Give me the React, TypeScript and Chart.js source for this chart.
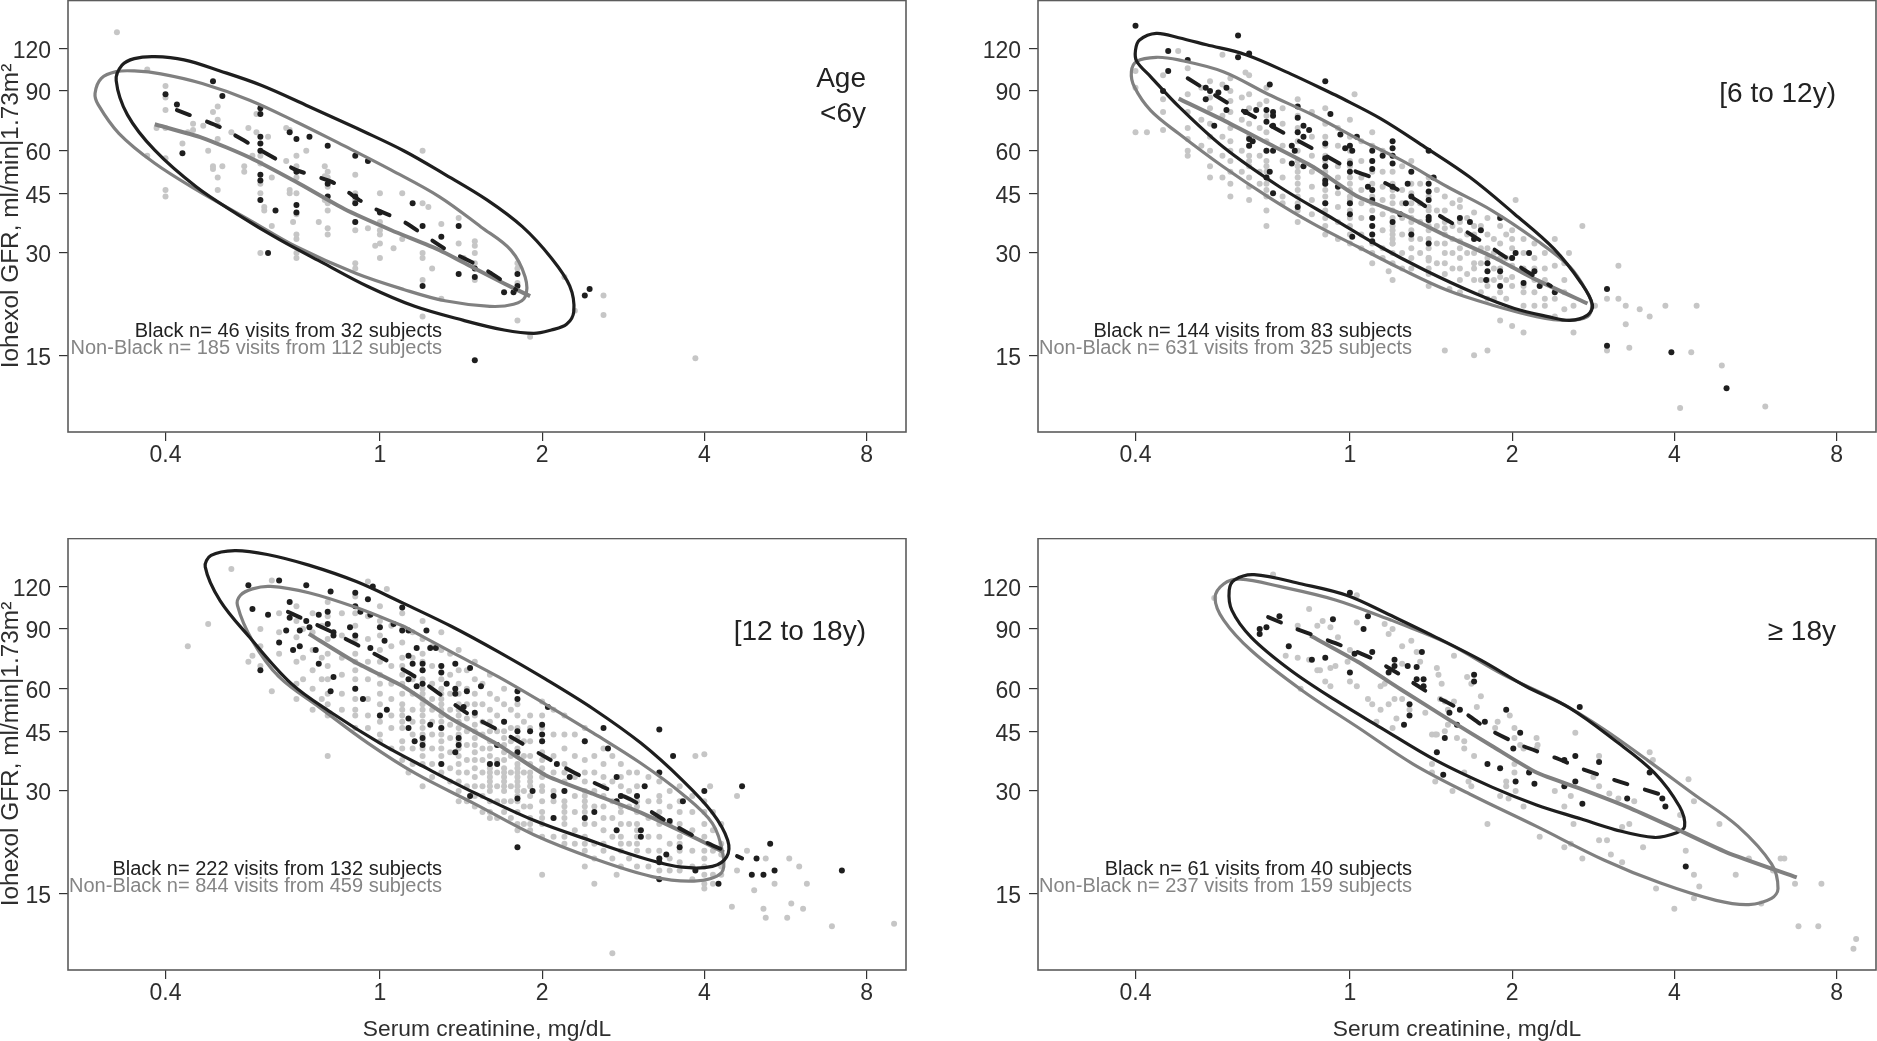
import React, { useEffect, useRef } from "react";
import { Chart, registerables } from "chart.js";

Chart.register(...registerables);

type P = number[];
type Col = [number, number[]];

const xTickValues = [0.4, 1, 2, 4, 8];
const yTickValues = [15, 30, 45, 60, 90, 120];
const yTitle = "Iohexol GFR, ml/min|1.73m²";
const xTitle = "Serum creatinine, mg/dL";

// ---------- Age < 6y
const black1: P[] = [[.4,88],[.42,82],[.49,96],[.51,87],[.6,80],[.6,77],[.43,59],[.6,66],[.6,60],[.6,51],[.6,49],[.6,43],[.64,40],[.62,30],[.68,68],[.7,65],[.74,66],[.8,62],[.9,58],[.95,56],[.7,41.5],[.7,39.5],[.9,42],[.9,37],[1,39.5],[1.15,42],[1.2,36],[1.3,33.5],[1.4,36],[1.4,26],[1.5,25.5],[1.2,24],[1.8,26],[1.8,24],[1.7,23],[1.77,23],[2.4,22.5],[2.45,23.5],[1.5,14.5],[.8,48],[.8,44],[.7,52],[.9,44],[1.6,26],[1.5,27],[.6,63]];
const grey1: P[] = [[.325,134],[.37,104],[.4,93],[.4,86],[.4,79],[.4,70],[.385,70],[.37,58],[.4,57],[.4,46],[.4,44],[.43,63],[.44,68],[.45,72],[.45,69],[.47,71],[.48,60],[.49,54],[.49,53],[.5,81],[.49,78],[.5,74],[.5,71],[.5,65],[.51,54],[.5,50],[.5,46],[.53,68],[.56,54],[.56,52],[.59,77],[.57,70],[.59,68],[.58,58],[.6,58],[.6,55],[.6,48],[.6,45],[.61,41],[.61,40],[.63,50],[.63,36],[.62,66],[.6,30],[.67,70],[.68,69],[.67,56],[.68,46],[.68,45],[.69,37],[.7,58],[.7,54],[.7,50],[.7,45],[.7,39],[.7,34],[.7,33],[.7,30],[.7,29],[.73,60],[.77,37],[.79,54],[.79,50.5],[.79,43],[.8,52],[.8,50],[.8,47],[.8,42],[.8,40],[.8,35.5],[.8,34],[.9,51],[.9,45],[.9,43],[.9,37],[.9,35],[.9,28],[.9,27],[.95,35.5],[.98,31.5],[1,45],[1,37],[1,35],[1,34],[1,32],[1,29],[1.06,31],[1.1,45],[1.1,33],[1.2,60],[1.2,42],[1.23,41],[1.2,30],[1.2,29],[1.2,25],[1.2,19.5],[1.25,27],[1.3,36.5],[1.3,22],[1.4,38],[1.4,32],[1.43,29],[1.5,32.5],[1.5,31.5],[1.5,30],[1.5,28],[1.5,25],[1.8,28],[1.8,27],[1.8,24.5],[1.8,19],[1.9,17],[2.2,25.5],[2.3,20.3],[2.6,22.5],[2.6,19.7],[3.85,14.7]];
const blackEllipse1: P[] = [[.904,70],[1.107,60],[1.315,51.3],[1.58,43],[1.84,35.8],[2.08,29],[2.25,24],[2.29,20.2],[2.22,18.5],[2.08,17.8],[1.93,17.4],[1.7,17.8],[1.43,19],[1.16,20.9],[.95,23.9],[.776,28.3],[.65,32.9],[.544,39],[.456,47],[.382,60.2],[.34,76.5],[.324,96.5],[.332,107],[.35,112],[.382,113.5],[.433,111],[.505,103],[.602,93.5],[.738,81],[.904,70]];
const greyEllipse1: P[] = [[.859,62],[1.05,52.6],[1.29,43.9],[1.54,35.8],[1.75,30.6],[1.86,25.5],[1.86,22.3],[1.77,21.2],[1.6,20.9],[1.32,21.7],[1.11,23.4],[.904,26.1],[.7,31.3],[.573,37.5],[.456,46.1],[.382,55.1],[.328,67.4],[.3,82],[.296,88.5],[.304,98],[.324,102.5],[.35,103],[.392,101],[.468,94.6],[.573,84.5],[.7,72.9],[.859,62]];
const greyLine1: P[] = [[.382,71.8],[.468,65.5],[.573,57.3],[.7,48.5],[.859,40.4],[1.05,35],[1.29,30.6],[1.5,27],[1.7,24.4],[1.9,22.4]];
const blackLine1: P[] = [[.42,79],[.505,70.4],[.62,58.5],[.7,52.6],[.816,48.5],[.95,41.4],[1.107,37.1],[1.315,31],[1.54,27.3],[1.79,23.4]];

// ---------- 6 to 12y
const black2: P[] = [[.4,140],[.46,118],[.46,103],[.5,111],[.62,131],[.62,113],[.65,116],[.71,94],[.9,96],[.45,90],[.54,92],[.55,90],[.57,89],[.59,92],[.54,85],[.59,79],[.56,71],[.65,65],[.65,62],[.66,64],[.64,78],[.67,79],[.7,79],[.72,78],[.72,76],[.7,73],[.72,71],[.7,60],[.72,60],[.8,81],[.8,75],[.8,68],[.82,71],[.84,69],[.82,66],[.78,62],[.79,60],[.78,55],[.82,54],[.7,50],[.71,52],[.72,45],[.8,41],[.9,63],[.9,57],[.9,54],[.9,49],[.9,48],[.95,47],[.9,42],[.96,67],[.92,77],[.98,61],[1,62],[1.01,60],[1,55],[1,52],[1,42],[1,39],[1.01,33.5],[1.03,66],[1.1,60],[1.1,56],[1.1,53],[1.15,58],[1.2,64],[1.2,61],[1.2,58],[1.2,55],[1.08,47],[1.1,46],[1.1,43],[1.1,38],[1.1,36],[1.1,34],[1.1,32.5],[1.2,47],[1.2,37],[1.24,39],[1.27,42],[1.3,52],[1.28,48],[1.3,44],[1.3,34],[1.4,60],[1.43,50],[1.4,48],[1.4,45.5],[1.4,43],[1.4,38.3],[1.4,37.5],[1.4,32],[1.6,38],[1.67,37],[1.75,35],[1.7,33],[1.9,38],[1.8,28],[1.8,26.5],[1.79,25],[1.9,26.5],[1.9,24],[2,29],[2.03,30],[2.15,30],[2.2,26.5],[2.1,24.5],[2.25,24],[2.4,23],[3,23.5],[3,16],[3.95,15.3],[5,12]];
const grey2: P[] = [[.4,68],[.42,68],[.45,69],[.48,118],[.58,115],[.64,102],[1.02,88],[2.7,36],[3.15,27.5],[3.15,22],[3.25,21],[3.45,20.5],[3.6,19.5],[3.85,21],[4.4,21],[3.25,18.5],[3,22],[2.6,17.5],[3,15.5],[3.3,15.8],[4.3,15.3],[4.9,14],[4.1,10.5],[5.9,10.6],[1.5,15.5],[1.7,15],[1.8,15.5],[1.9,19],[2,18.3],[2.1,17.5],[1.18,26.5],[1.2,25],[1.5,28],[1.4,24],[1.53,23.5],[1.6,23],[1.8,22],[2.03,43],[1.7,39.5],[1.6,43],[1.6,41],[2.4,33],[2.55,30],[2.4,27.5],[2.3,21],[2.4,22],[2.4,19.5],[2.6,21],[2.85,21],[2.1,23],[2,27.5],[2,25.5],[2,31],[1.9,25.5],[1.6,25],[1.7,25],[1.7,30],[1.6,31],[1.6,32.5],[1.5,35.5],[1.5,32],[1.4,29],[1.4,28.5],[1.3,29],[1.2,32],[1.2,33],[1.2,35],[1.3,38],[1.4,40]];
const grey2Columns: Col[] = [[.4,[103,92]],[.45,[100,85,78]],[.5,[105,88,78,70,65,60,58]],[.53,[92,74,62]],[.55,[96,86,80,72,66,60,54,50]],[.58,[94,76,66,58,50]],[.6,[98,90,84,78,70,64,60,56,52,48,44]],[.63,[86,74,60,52]],[.65,[100,88,80,72,66,62,58,56,54,50,47,43]],[.68,[82,70,58,52,48]],[.7,[92,84,76,68,64,60,56,54,52,50,48,46,44,40,36]],[.75,[80,72,62,56,50,44,42]],[.8,[85,76,70,64,60,56,54,52,50,48,46,44,42,40,37]],[.85,[78,66,58,52,47,43,39]],[.9,[80,72,66,62,58,56,52,50,48,46,44,42,40,38,36,34]],[.95,[70,62,54,50,45,41,37,33]],[1,[74,66,60,56,54,50,48,46,44,43,42,40,38,36,34,32]],[1.05,[64,56,50,46,42,38,34,31]],[1.1,[68,62,56,52,48,46,44,42,40,38,36,34,32,30,28]],[1.15,[60,52,47,43,39,35,31,29]],[1.2,[58,52,48,46,44,42,40,38,36,34,32,30,28]],[1.25,[54,46,42,38,34,30,27]],[1.3,[56,48,45,42,40,37,35,33,31,27]],[1.35,[48,42,37,33,30]],[1.4,[50,44,41,38,36,35,33,31,29,27,26]],[1.45,[46,40,36,32,28]],[1.5,[44,40,37,34,30,26]],[1.55,[42,36,33,30,27]],[1.6,[37,35,29,27]],[1.65,[38,34,30,26]],[1.7,[36,34,28,27]],[1.75,[36,31,28,25,23]],[1.8,[38,34,31,29,25,24]],[1.85,[33,30,27,25,22]],[1.9,[36,32,29,27,23]],[1.95,[34,29,25,22]],[2,[35,33,29,24]],[2.1,[33,30,27,24,21]],[2.2,[32,29,27,25,23,21]],[2.3,[30,27,25,22]],[2.5,[28,25,23,20.5]]];
const blackEllipse2: P[] = [[.94,87.5],[1.138,74.7],[1.378,61.5],[1.668,50.2],[2.02,39.1],[2.39,30.9],[2.69,24.4],[2.82,21.1],[2.76,19.7],[2.56,19],[2.33,19.5],[2.02,20.6],[1.71,22.8],[1.378,26.7],[1.138,31.3],[.94,37.5],[.74,47],[.582,61.5],[.481,81],[.427,99],[.402,110],[.4,118.6],[.407,127],[.437,132.8],[.481,129],[.542,123],[.641,115],[.776,101],[.94,87.5]];
const greyEllipse2: P[] = [[1.034,65],[1.252,56],[1.516,47],[1.835,40],[2.22,32.7],[2.56,27.3],[2.76,22.9],[2.81,21.1],[2.76,19.5],[2.53,19],[2.22,19.5],[1.835,21.1],[1.516,23.3],[1.252,26.8],[1.034,31.3],[.854,36.6],[.705,43.9],[.582,53.8],[.481,67.4],[.427,78.7],[.398,92.5],[.393,102.5],[.402,110],[.437,113],[.481,111],[.582,102.5],[.705,88],[.854,76.4],[1.034,65]];
const greyLine2: P[] = [[.481,85.4],[.582,73.8],[.705,63],[.854,53.8],[1.034,44],[1.252,39],[1.516,33.6],[1.835,29.3],[2.22,25],[2.76,21.3]];
const blackLine2: P[] = [[.5,98],[.6,82],[.65,77],[.776,66],[.885,59],[1,53],[1.138,49],[1.31,43.5],[1.46,38.8],[1.63,35],[1.86,30.6],[2.09,27],[2.36,24]];

// ---------- 12 to 18y
const black3: P[] = [[.57,121],[.58,103],[.62,99],[.65,125],[.73,121],[.81,116],[.9,115],[.95,110],[.97,120],[1.1,104],[.68,108],[.68,97],[.67,89],[.65,82],[.69,78],[.71,80],[.71,89],[.73,95],[.74,91],[.77,99],[.8,101],[.8,93],[.82,88],[.82,86],[.6,68],[.76,78],[.77,71],[.82,65],[.81,59],[.88,91],[.9,105],[.92,101],[.96,99],[.9,86],[.96,79],[1,91],[1.06,93],[1.1,89],[1.02,83],[1.13,89],[1.22,89],[1.17,79],[1.24,79],[1.27,79],[1.13,75],[1.15,71],[1.2,71],[1.2,68],[1.3,70],[1.3,67],[1.38,71],[1.47,69],[1.13,64],[1.17,61],[1.2,62],[1.33,62],[1.38,60],[1.38,58],[1.45,59],[1.54,61],[.9,60],[.93,56],[1,50],[1.03,52],[1.13,49],[1.13,46],[1.16,42],[1.2,43],[1.2,41],[1.24,47],[1.3,46],[1.4,43],[1.4,41],[1.38,39],[1.3,36],[1.43,53],[1.5,51],[1.7,48],[1.8,59],[1.8,56],[1.8,45],[1.9,45],[1.65,41],[1.8,39],[1.6,36],[1.65,36],[2,47],[2,44],[2,42],[2.05,53],[2.13,36],[2.4,42],[2.6,46],[2.65,40],[2.25,33],[2.75,33],[3.3,45.5],[3.5,38],[3.3,34],[3.1,31],[4,30],[4.7,31],[3.65,28],[3,29],[2.8,29],[2.75,28],[2.2,30],[2.1,29],[1.92,30],[1.8,28.5],[1.47,29],[1.8,20.5],[2.1,25],[2.4,25],[2.5,26],[2.75,23],[3.05,23],[3.05,22],[3.45,24.5],[3.4,19.5],[3.6,20.5],[3.3,19],[3.3,18.5],[3.85,17.5],[3.3,16.5],[4.25,16],[5.3,21],[5,19],[5.4,17.5],[4.9,17],[5.15,17],[7.2,17.5]];
const grey3: P[] = [[.53,135],[.63,125],[.95,124],[1.03,118],[.48,93],[.44,80],[.57,72],[.58,75],[.63,59],[.8,38],[1.13,34],[1.2,31],[1.4,28],[1.6,25],[1.9,24],[2,17],[2.5,16],[2.7,10],[2.75,17],[2.4,18],[3.85,38],[4,38.5],[4.1,31],[4.6,29],[4.8,20],[5.2,19],[5.75,19],[6,18],[6.2,16],[5.4,16],[4,15.5],[4.95,15.3],[4.5,13.7],[5.15,13.5],[5.2,12.7],[5.7,12.7],[5.8,14],[6.1,13.5],[6.9,12],[9,12.2],[4.6,17.5],[4,16]];
const grey3Columns: Col[] = [[.6,[90,80,70]],[.65,[100,88,76,66]],[.7,[105,95,85,72,62,56]],[.72,[90,74,64]],[.75,[100,88,78,68,60,52]],[.78,[92,74,64,56]],[.8,[108,98,84,76,70,64,58,54,50]],[.85,[100,86,74,66,58,52]],[.9,[112,100,92,84,76,72,68,64,60,56,52,50,46]],[.95,[98,84,72,64,56,50,46]],[1,[105,95,86,78,72,66,62,58,54,50,48,44,42]],[1.05,[92,80,70,62,56,50,46,40]],[1.1,[100,90,82,74,70,66,62,58,54,52,50,48,46,42,40,37]],[1.15,[88,74,64,58,52,48,44,40,36]],[1.2,[95,84,76,72,68,64,60,58,56,54,52,50,48,46,44,42,40,38,36]],[1.25,[80,70,62,56,52,48,44,40,36,33]],[1.3,[88,78,70,64,60,58,56,54,52,50,48,46,44,42,40,38,36,34]],[1.35,[76,66,58,52,47,43,39,35,32]],[1.4,[78,68,62,58,54,52,50,48,46,44,42,40,38,36,34,32,30]],[1.45,[68,60,54,49,45,41,37,34,31,28]],[1.5,[72,64,58,54,50,47,45,43,41,39,37,35,33,31,29,27]],[1.55,[62,54,48,44,40,37,34,31,29,26]],[1.6,[66,58,52,48,45,42,40,38,36,35,34,33,32,31,30,28,26]],[1.65,[56,50,45,41,37,34,31,28,25]],[1.7,[60,54,48,45,43,41,39,37,35,34,33,32,31,30,28,26]],[1.75,[52,46,42,38,34,31,28,25]],[1.8,[54,50,46,43,40,38,36,35,34,33,32,31,30,29,28,26,24,23]],[1.85,[48,42,38,34,30,27,24]],[1.9,[50,46,42,38,36,34,33,32,31,29,27,25,23]],[2,[55,50,46,42,39,37,35,33,31,30,28,26,25,24,22]],[2.1,[52,44,38,34,30,28,25,22]],[2.2,[50,44,40,36,34,32,30,28,27,26,25,24,22,21]],[2.3,[44,38,33,29,26,23,21]],[2.4,[46,42,37,34,32,30,29,28,27,26,25,24,22,21,20]],[2.5,[38,34,30,27,24,21,19]],[2.6,[40,36,33,31,29,27,25,23,21,20]],[2.7,[38,32,28,25,22,19]],[2.8,[36,33,31,29,27,26,24,22,21,20,18]],[2.9,[34,30,27,24,21,19]],[3,[34,31,28,27,26,24,23,22,21,20,18]],[3.15,[33,28,25,22,20,18]],[3.3,[32,29,28,26,24,22,20,19,17.5]],[3.45,[30,27,24,21,19,17.5]],[3.6,[31,28,26,24,22,21,20,18.5,17.5]],[3.8,[29,26,23,20,18,16.5]],[4,[28,26,24,22,20,19,18,17]],[4.15,[26,23,20,17,16]],[4.3,[24,21,19.5,18,17]]];
const blackEllipse3: P[] = [[1.107,107],[1.356,91.6],[1.66,77],[2.03,64],[2.49,52.3],[3.05,41.5],[3.64,32.3],[4.14,25.9],[4.42,21.5],[4.4,19.2],[4.14,18],[3.64,17.9],[3.13,18.9],[2.49,21.3],[1.93,24.6],[1.5,29.6],[1.225,34.9],[1,41.5],[.816,50.8],[.684,62.2],[.573,85],[.505,109],[.474,137],[.486,148],[.538,153],[.618,149],[.738,138.6],[.904,124],[1.107,107]];
const greyEllipse3: P[] = [[1.107,91.6],[1.356,77],[1.66,65],[2.03,54],[2.49,44.4],[3.05,36.2],[3.64,29.4],[4.14,24.1],[4.33,19.6],[4.3,17.2],[3.83,16.3],[3.2,16.8],[2.49,19],[1.93,22.3],[1.5,27.5],[1.164,33.8],[.95,41.5],[.776,52.6],[.65,65],[.58,83],[.544,105.5],[.551,113],[.58,118],[.626,120],[.738,115],[.904,104],[1.107,91.6]];
const greyLine3: P[] = [[.738,87],[.904,71.5],[1.107,60.8],[1.356,49],[1.66,41],[2.03,33.4],[2.49,29.4],[3.05,25.9],[3.74,22.3],[4.35,19.8]];
const blackLine3: P[] = [[.675,101],[.816,88],[1,74.5],[1.164,65],[1.46,50.5],[1.7,44.4],[2.1,36.6],[2.49,31.8],[2.96,28],[3.38,24.6],[4.03,21.2],[4.7,19]];

// ---------- >= 18y
const black4: P[] = [[1,115],[1.08,98],[1.06,90],[.74,98],[.93,96],[.7,91],[.68,90],[.68,87],[.77,80],[.85,73],[.9,74],[1.1,77],[1.02,76],[1,67],[1.21,73],[1.21,70],[1.28,70],[1.33,69.5],[1.36,77],[1.37,64],[1.33,64],[1.37,61],[1.29,54],[1.29,50],[1.26,47],[1.18,67],[1.7,66],[1.7,63],[1.6,52],[1.53,51],[1.58,47],[1.78,48],[1.95,52],[2.07,44.5],[2.01,40],[1.5,43],[1.45,39],[1.49,33.5],[1.8,36],[1.9,35],[2.03,32],[2.15,34],[2.2,31.5],[2.5,37],[2.5,31],[2.62,38],[2.62,32],[2.7,27.5],[2.9,36.5],[2.67,53],[3.27,28.5],[3.6,34],[3.85,27],[3.8,28.5],[4.2,18]];
const grey4: P[] = [[.56,111],[.72,130],[1.03,113],[.84,103],[.8,92],[.87,92],[.89,95],[.92,91],[.95,85],[.76,75],[.8,74],[.84,73],[.87,68],[.88,68],[.92,69],[.94,70],[.9,63],[.92,61],[.81,60],[1,78],[1.03,94],[.99,72],[1,63],[1.03,61],[1.08,56],[1.1,54],[1.14,52],[1.12,48],[1.14,61],[1.16,62],[1.16,93],[1.2,90],[1.18,87],[1.3,83],[1.25,80],[1.25,71],[1.35,72],[1.33,77],[1.21,56],[1.18,54],[1.25,56],[1.22,49],[1.2,46],[1.29,52],[1.38,51],[1.42,44],[1.44,44],[1.45,44],[1.5,45],[1.45,69],[1.46,66],[1.48,62],[1.47,56],[1.5,55],[1.52,52],[1.56,75],[1.56,55],[1.65,65],[1.68,62],[1.75,57],[1.72,53],[1.52,47],[1.58,43],[1.63,42],[1.63,40],[1.7,38],[1.63,34],[1.66,32],[1.42,36],[1.42,34],[1.44,32],[1.68,31],[1.55,30],[1.8,24],[1.88,48],[1.86,46],[1.98,50],[2.02,46],[2.02,43],[2.07,41],[2.22,43],[2.23,41],[2.1,40],[2.02,36],[2.02,34],[1.95,32],[1.95,31],[2.03,30],[1.9,29],[1.97,28.5],[2.1,27],[2.4,30],[2.25,22],[2.5,27],[2.57,29],[2.6,24],[2.57,21],[2.5,20.5],[2.7,19],[2.9,38],[2.83,33],[2.9,31],[3.03,29.5],[3.15,28.5],[3.37,28],[3.2,23.5],[3.3,24],[2.9,21.5],[3,21.5],[3.05,19.5],[3.2,18.5],[3.5,20.5],[3.6,39],[3.65,37],[4.25,32.5],[4.35,28],[4.1,25.5],[4.85,24],[4.2,20],[4.35,17],[4.45,15.7],[3.7,15.5],[4,13.5],[4.35,14.5],[5.2,17],[5.5,19],[6.1,17.5],[6.3,19],[6.4,19],[5.8,14],[6.7,16],[7.5,16],[6.8,12],[7.4,12],[8.7,11],[8.6,10.3],[2.62,44.5],[2.22,40]];
const blackEllipse4: P[] = [[1.193,98.5],[1.445,85],[1.75,72.8],[2.12,61],[2.56,52.6],[3.1,42.3],[3.67,34],[4.09,27],[4.18,23.6],[4.04,22.6],[3.67,21.9],[3.1,23.1],[2.69,24.8],[2.22,27.3],[1.835,30.8],[1.445,36.9],[1.138,46.2],[.94,55.5],[.776,68],[.656,85],[.604,102],[.597,117],[.611,125.5],[.664,130],[.814,122],[.986,113],[1.193,98.5]];
const greyEllipse4: P[] = [[1.193,95.5],[1.516,81.7],[1.925,66],[2.445,54.9],[2.96,45.6],[3.58,36.8],[4.34,29.4],[5.25,23.6],[6.06,18.3],[6.23,15.5],[6.06,14.5],[5.5,13.9],[4.78,14.3],[3.76,16.1],[2.96,18.8],[2.22,23.6],[1.668,29.4],[1.31,36],[1.034,46.2],[.814,59.4],[.656,77.7],[.583,95.5],[.562,111],[.583,122],[.626,126],[.74,120],[.94,109.5],[1.193,95.5]];
const greyLine4: P[] = [[.844,86],[1.034,72],[1.25,59.4],[1.516,49],[1.835,40.7],[2.22,34],[2.69,30.4],[3.26,27],[3.94,23.6],[5,19.8],[6.75,16.7]];
const blackLine4: P[] = [[.705,97.5],[.795,90],[.94,81.7],[1.1,73.6],[1.24,66],[1.41,58],[1.59,52.5],[1.79,46],[2.07,41],[2.445,37.2],[2.69,34.9],[3.1,32.3],[3.85,29]];

const expand = (cols: Col[]): P[] => cols.flatMap(([x, ys]) => ys.map((y) => [x, y]));

const panels = [
  { left: 0, top: 0, yAxis: true, xAxisTitle: false, grey: grey1, black: black1, ge: greyEllipse1, be: blackEllipse1, gl: greyLine1, bl: blackLine1,
    label: ["Age", "<6y"], blackText: "Black n= 46 visits from 32 subjects", greyText: "Non-Black n= 185 visits from 112 subjects" },
  { left: 970, top: 0, yAxis: false, xAxisTitle: false, grey: [...grey2, ...expand(grey2Columns)], black: black2, ge: greyEllipse2, be: blackEllipse2, gl: greyLine2, bl: blackLine2,
    label: ["[6 to 12y)"], blackText: "Black n= 144 visits from 83 subjects", greyText: "Non-Black n= 631 visits from 325 subjects" },
  { left: 0, top: 538, yAxis: true, xAxisTitle: true, grey: [...grey3, ...expand(grey3Columns)], black: black3, ge: greyEllipse3, be: blackEllipse3, gl: greyLine3, bl: blackLine3,
    label: ["[12 to 18y)"], blackText: "Black n= 222 visits from 132 subjects", greyText: "Non-Black n= 844 visits from 459 subjects" },
  { left: 970, top: 538, yAxis: false, xAxisTitle: true, grey: grey4, black: black4, ge: greyEllipse4, be: blackEllipse4, gl: greyLine4, bl: blackLine4,
    label: ["≥ 18y"], blackText: "Black n= 61 visits from 40 subjects", greyText: "Non-Black n= 237 visits from 159 subjects" },
];

const FONT = "'Liberation Sans', Arial, sans-serif";
const DARK = "#1e1e1e";
const MID = "#808080";
const LIGHT = "#c6c6c6";
const FRAME = "#5c5c5c";
const TICK = "#333333";
const TEXT = "#2e2e2e";

type Panel = (typeof panels)[number];

const toXY = (pts: P[]) => pts.map(([x, y]) => ({ x, y }));
const noPadding = (s: any) => {
  s.paddingLeft = 0;
  s.paddingRight = 0;
  s.paddingTop = 0;
  s.paddingBottom = 0;
};

function PanelChart({ panel }: { panel: Panel }) {
  const ref = useRef<HTMLCanvasElement | null>(null);
  useEffect(() => {
    if (!ref.current) return;
    const annotate = {
      id: "annotate",
      afterDraw(chart: any) {
        const { ctx, chartArea: a } = chart;
        ctx.save();
        ctx.strokeStyle = FRAME;
        ctx.lineWidth = 1.6;
        ctx.strokeRect(a.left, a.top + 0.5, a.right - a.left, a.bottom - a.top - 0.5);
        ctx.textAlign = "right";
        ctx.textBaseline = "middle";
        ctx.font = `20px ${FONT}`;
        ctx.fillStyle = "#222222";
        ctx.fillText(panel.blackText, a.left + 374, a.top + 331);
        ctx.fillStyle = "#858585";
        ctx.fillText(panel.greyText, a.left + 374, a.top + 348);
        ctx.font = `28px ${FONT}`;
        ctx.fillStyle = "#222222";
        const right = a.left + 798;
        if (panel.label.length === 2) {
          ctx.fillText(panel.label[0], right, a.top + 79);
          ctx.fillText(panel.label[1], right, a.top + 114);
        } else {
          ctx.fillText(panel.label[0], right, a.top + 94.5);
        }
        ctx.restore();
      },
    };
    const dots = (pts: P[], color: string, order: number) => ({
      type: "scatter" as const, data: toXY(pts), backgroundColor: color, borderColor: color, borderWidth: 0, pointRadius: 3, order,
    });
    const curve = (pts: P[], color: string, width: number, order: number, tension: number, dash: number[] = []) => ({
      type: "scatter" as const, data: toXY(pts), showLine: true, pointRadius: 0, borderColor: color, backgroundColor: color, borderWidth: width, tension, borderDash: dash, borderCapStyle: dash.length ? "round" : "butt", borderJoinStyle: "round", order,
    });
    const chart = new Chart(ref.current, {
      type: "scatter",
      data: {
        datasets: [
          dots(panel.grey, LIGHT, 6),
          dots(panel.black, DARK, 5),
          curve(panel.ge, MID, 3.2, 4, 0.35),
          curve(panel.be, DARK, 3.2, 3, 0.35),
          curve(panel.gl, MID, 4, 2, 0.2),
          curve(panel.bl, DARK, 4, 1, 0.2, [14, 18]),
        ],
      },
      options: {
        animation: false,
        responsive: false,
        maintainAspectRatio: false,
        layout: { autoPadding: false, padding: { left: 0, right: 1, top: 0, bottom: 0 } },
        plugins: { legend: { display: false }, tooltip: { enabled: false } },
        scales: {
          x: {
            type: "logarithmic",
            min: 0.2637,
            max: 9.47,
            afterBuildTicks: (s: any) => { s.ticks = xTickValues.map((value) => ({ value })); },
            afterFit: (s: any) => { s.height = 71; noPadding(s); },
            grid: { drawOnChartArea: false, drawTicks: true, tickLength: 9, color: TICK, lineWidth: 1.2 },
            border: { display: false },
            ticks: { color: TEXT, font: { family: FONT, size: 23 }, padding: 1, maxRotation: 0, autoSkip: false, callback: (v: any) => String(v) },
            title: { display: panel.xAxisTitle, text: xTitle, color: TEXT, font: { family: FONT, size: 22.8 }, padding: { top: 14, bottom: -2 } },
          },
          y: {
            type: "logarithmic",
            min: 8.92,
            max: 166.6,
            afterBuildTicks: (s: any) => { s.ticks = yTickValues.map((value) => ({ value })); },
            afterFit: (s: any) => { s.width = 68; noPadding(s); },
            grid: { drawOnChartArea: false, drawTicks: true, tickLength: 9, color: TICK, lineWidth: 1.2 },
            border: { display: false },
            ticks: { color: TEXT, font: { family: FONT, size: 23 }, padding: 8, labelOffset: 3, autoSkip: false, callback: (v: any) => String(v) },
            title: { display: panel.yAxis, text: yTitle, color: TEXT, font: { family: FONT, size: 24.4, lineHeight: 1 }, padding: { top: -1, bottom: 0 } },
          },
        },
      } as any,
      plugins: [annotate],
    });
    return () => chart.destroy();
  }, [panel]);
  return (
    <canvas
      ref={ref}
      width={907}
      height={503}
      style={{ position: "absolute", left: panel.left, top: panel.top, width: 907, height: 503 }}
    />
  );
}

export default function App() {
  return (
    <div style={{ position: "fixed", left: 0, top: 0, width: 1877, height: 1041, overflow: "hidden", background: "#ffffff" }}>
      {panels.map((p, i) => (
        <PanelChart key={i} panel={p} />
      ))}
    </div>
  );
}
